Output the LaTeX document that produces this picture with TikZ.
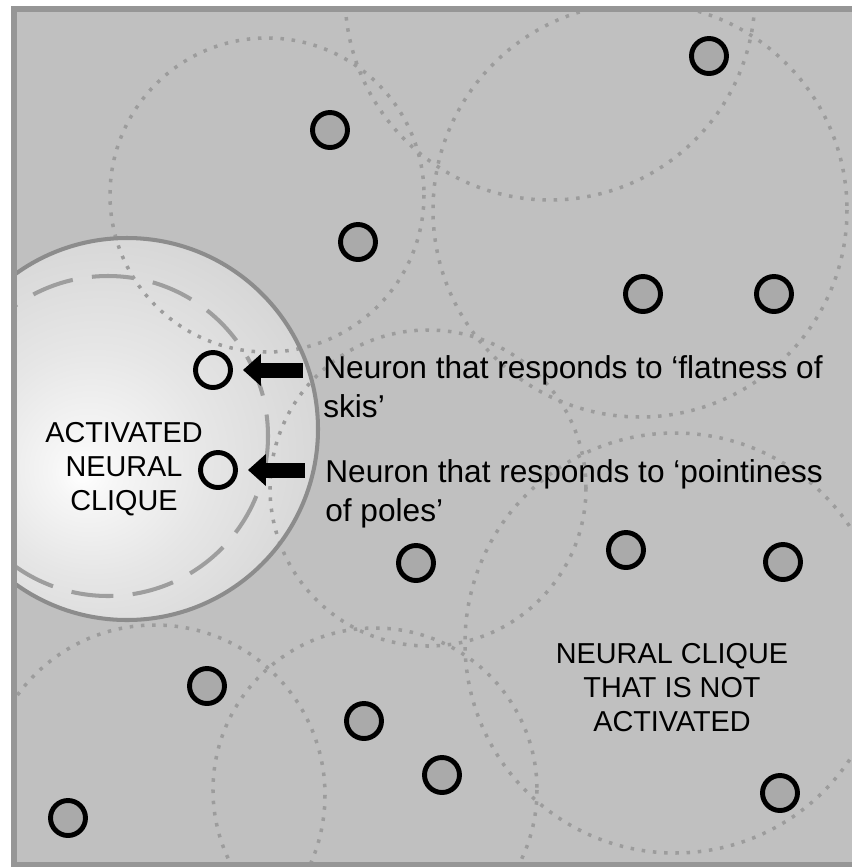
\documentclass[tikz,border=0pt]{standalone}
\usepackage{fontspec}
\setmainfont{Liberation Sans}
\usetikzlibrary{arrows.meta}
\definecolor{panel}{RGB}{192,192,192}
\definecolor{rim}{RGB}{150,150,150}
\definecolor{halo}{RGB}{140,140,140}
\definecolor{halodash}{RGB}{158,158,158}
\definecolor{ringgray}{RGB}{156,156,156}
\definecolor{cellgray}{RGB}{170,170,170}
\definecolor{glowcore}{RGB}{246,246,246}
\definecolor{glowmid}{RGB}{230,230,230}
\definecolor{glowouter}{RGB}{214,214,214}
\definecolor{glowedge}{RGB}{203,203,203}
\definecolor{glowrim}{RGB}{196,196,196}
\pgfdeclareradialshading{cliqueglow}{\pgfpoint{-6bp}{-6bp}}{color(0bp)=(white); color(4bp)=(glowcore); color(15bp)=(glowmid); color(29bp)=(glowouter); color(41bp)=(glowedge); color(50bp)=(glowrim)}

\begin{document}
\begin{tikzpicture}[x=0.02cm,y=-0.02cm,
		cell/.style={circle,draw=black,fill=cellgray,line width=2.8pt,minimum size=0.7cm,inner sep=0pt},
		lit/.style={circle,draw=black,line width=2.8pt,minimum size=0.7cm,inner sep=0pt},
		ring/.style={draw=ringgray,line width=2pt,dash pattern=on 2pt off 4.4pt},
		pointer/.style={line width=0.3cm,-{Triangle[length=0.36cm,width=0.62cm]},shorten >=0.2cm},
		note/.style={font=\fontsize{18}{22.5}\selectfont,align=left,inner sep=0pt,anchor=north west},
		tag/.style={font=\fontsize{16.4}{19.3}\selectfont,align=center,inner sep=0pt,anchor=north}]
		\useasboundingbox (0,0) rectangle (852,867);
		\fill[panel] (14,9) rectangle (860,865);
		
		\begin{scope}
			\clip (14,9) rectangle (860,865);
			\shade[shading=cliqueglow] (127,429) circle (191);
			\draw[ring] (267,195) circle (157);
			\draw[ring] (550,-5) circle (205);
			\draw[ring] (640,210) circle (207);
			\draw[ring] (428,488) circle (158);
			\draw[ring] (675,643) circle (210);
			\draw[ring] (155,795) circle (170);
			\draw[ring] (375,790) circle (162);
			\draw[halo,line width=2.3pt] (127,429) circle (191);
			\draw[halodash,line width=2.3pt,dash pattern=on 24pt off 11pt] (108,436) circle (160);
		\end{scope}
		\draw[rim,line width=3.4pt] (14,9) rectangle (860,865);
		
		\node[cell] (n1) at (330,130){};
		\node[cell] (n2) at (358,242){};
		\node[cell] (n3) at (709,56){};
		\node[cell] (n4) at (643,294){};
		\node[cell] (n5) at (774,294){};
		\node[cell] (n6) at (416,563){};
		\node[cell] (n7) at (626,550){};
		\node[cell] (n8) at (783,562){};
		\node[cell] (n9) at (207,686){};
		\node[cell] (n10) at (364,721){};
		\node[cell] (n11) at (442,775){};
		\node[cell] (n12) at (68,818){};
		\node[cell] (n13) at (780,793){};
		
		\node[lit] (act1) at (213,370){};
		\node[lit] (act2) at (218,470){};
		
		\node[note] (flat) at (323,355) {Neuron that responds to ‘flatness of\\skis’};
		\node[note] (point) at (325,459) {Neuron that responds to ‘pointiness\\of poles’};
		\coordinate (flattail) at (303,370);
		\coordinate (pointtail) at (305,470);
		\draw[pointer] (flattail) -- (act1);
		\draw[pointer] (pointtail) -- (act2);
		
		\node[tag] (oncl) at (124,422) {ACTIVATED\\NEURAL\\CLIQUE};
		\node[tag] (offcl) at (672,643) {NEURAL CLIQUE\\THAT IS NOT\\ACTIVATED};
	\end{tikzpicture}
\end{document}
